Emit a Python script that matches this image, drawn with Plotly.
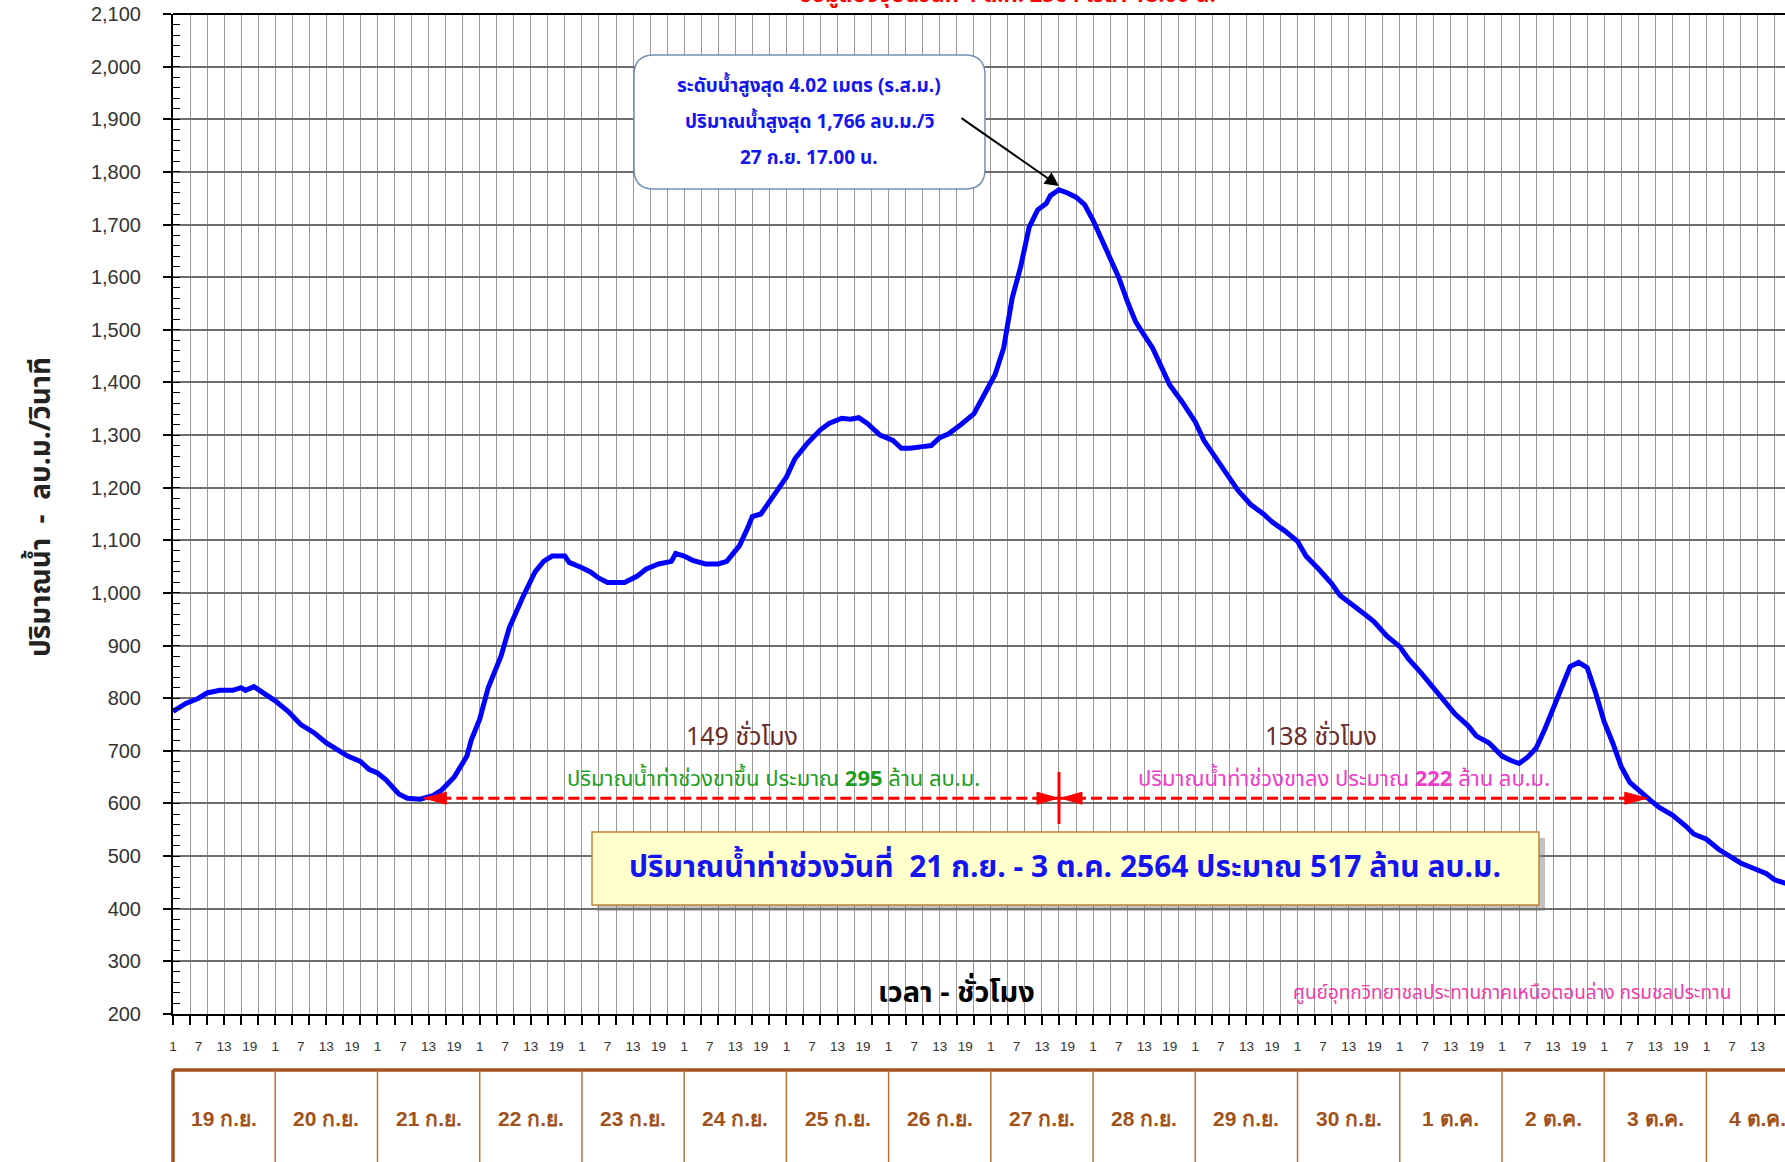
import plotly.graph_objects as go

# ---------------- data ----------------
# x = hours since 19 ก.ย. 01.00 น.
hours = [0, 3, 6, 8, 11, 14, 16, 17, 19, 21, 24, 27, 30, 33, 36, 38, 41, 44, 46, 48,
         50, 53, 55, 58, 61, 63, 66, 69, 70, 72, 74, 77, 79, 82, 85, 87, 89, 92, 93, 96,
         98, 100, 102, 106, 109, 111, 114, 117, 118, 120, 122, 125, 128, 130, 133, 135, 136, 138, 141, 144,
         146, 149, 152, 154, 157, 159, 161, 163, 166, 169, 171, 173, 176, 178, 180, 182, 185, 188, 190, 193,
         195, 197, 199, 201, 203, 205, 206, 208, 210, 212, 214, 216, 218, 220, 222, 224, 226, 228, 230, 232,
         234, 237, 240, 242, 245, 248, 250, 253, 256, 258, 261, 264, 266, 269, 272, 274, 277, 280, 282, 285,
         288, 290, 293, 296, 298, 301, 304, 306, 309, 312, 314, 316, 318, 320, 322, 324, 326, 328, 330, 332,
         334, 336, 338, 340, 342, 344, 347, 349, 352, 355, 357, 360, 363, 366, 368, 371, 374, 376, 379]
flow = [775, 790, 800, 810, 815, 815, 820, 815, 822, 812, 795, 775, 750, 735, 715, 705, 690, 680, 665, 658,
        645, 618, 610, 608, 615, 625, 650, 690, 720, 760, 820, 880, 935, 990, 1040, 1060, 1070, 1070, 1058, 1048,
        1040, 1028, 1020, 1020, 1032, 1045, 1055, 1060, 1075, 1070, 1062, 1055, 1055, 1060, 1090, 1125, 1145, 1150, 1185, 1220,
        1255, 1285, 1310, 1322, 1332, 1330, 1333, 1322, 1300, 1290, 1275, 1275, 1278, 1280, 1295, 1302, 1320, 1340, 1370, 1415,
        1465, 1560, 1620, 1695, 1728, 1740, 1755, 1766, 1760, 1752, 1738, 1708, 1672, 1635, 1600, 1555, 1515, 1490, 1465, 1430,
        1395, 1362, 1325, 1290, 1255, 1220, 1195, 1168, 1150, 1135, 1118, 1098, 1070, 1045, 1018, 995, 975, 958, 945, 918,
        898, 875, 848, 820, 800, 770, 748, 728, 715, 690, 682, 676, 688, 705, 740, 780, 825, 860, 868, 858,
        810, 755, 715, 670, 640, 625, 605, 592, 578, 558, 542, 532, 512, 497, 487, 477, 467, 455, 447]

day_labels = ["19 ก.ย.", "20 ก.ย.", "21 ก.ย.", "22 ก.ย.", "23 ก.ย.", "24 ก.ย.", "25 ก.ย.", "26 ก.ย.",
              "27 ก.ย.", "28 ก.ย.", "29 ก.ย.", "30 ก.ย.", "1 ต.ค.", "2 ต.ค.", "3 ต.ค.", "4 ต.ค."]
hour_labels = ["1", "7", "13", "19"]
y_ticks = list(range(200, 2101, 100))

peak_hour, peak_flow = 208, 1766
rise_start, fall_end = 59, 346
level_line = 610
rise_hours, fall_hours = 149, 138
rise_volume, fall_volume, total_volume = 295, 222, 517

# ---------------- layout geometry ----------------
W, H = 1785, 1162
ML, MR, MT, MB = 173, 0, 14, 148
PW, PH = W - ML - MR, H - MT - MB
X_END = PW / (102.23 / 24.0)


def px(xp):
    return (xp - ML) / PW


def py(yp):
    return (H - MB - yp) / PH


def rrect(x0, y0, x1, y1, r):
    pts = [("M", x0 + r, y0), ("L", x1 - r, y0), ("Q", x1, y0, x1, y0 + r), ("L", x1, y1 - r),
           ("Q", x1, y1, x1 - r, y1), ("L", x0 + r, y1), ("Q", x0, y1, x0, y1 - r), ("L", x0, y0 + r),
           ("Q", x0, y0, x0 + r, y0)]
    s = ""
    for p in pts:
        cmd = p[0]
        coords = p[1:]
        parts = []
        for i in range(0, len(coords), 2):
            parts.append(f"{px(coords[i]):.5f},{py(coords[i + 1]):.5f}")
        s += cmd + " ".join(parts) + " "
    return s + "Z"


THAI = "Noto Sans Thai, Tahoma, Leelawadee UI, Noto Sans, DejaVu Sans, sans-serif"
ARIAL = "Liberation Sans, Arial, sans-serif"
BROWN = "#A0521A"
BLUE_T = "#1414EE"

fig = go.Figure()
fig.add_trace(go.Scatter(x=hours, y=flow, mode="lines", line=dict(color="#0000FF", width=5),
                         hoverinfo="skip", showlegend=False))
fig.add_trace(go.Scatter(x=hours, y=flow, mode="lines", line=dict(color="rgba(0,0,0,0)", width=0),
                         xaxis="x2", hoverinfo="skip", showlegend=False))

n_days = len(day_labels)
label_vals = [d * 24 + i * 6 for d in range(n_days) for i in range(len(hour_labels))]
label_text = [hour_labels[i] for d in range(n_days) for i in range(len(hour_labels))]

fig.update_layout(
    width=W, height=H, margin=dict(l=ML, r=MR, t=MT, b=MB),
    paper_bgcolor="white", plot_bgcolor="white", showlegend=False,
    xaxis=dict(range=[0, X_END], tickmode="linear", tick0=0, dtick=4, showticklabels=False,
               ticks="outside", ticklen=9, tickwidth=1.5, tickcolor="black",
               showgrid=True, gridcolor="#9a9a9a", gridwidth=1.4, zeroline=False,
               showline=True, linecolor="black", linewidth=2),
    xaxis2=dict(range=[0, X_END], overlaying="x", anchor="y", side="bottom",
                tickmode="array", tickvals=label_vals, ticktext=label_text, ticks="",
                showgrid=False, zeroline=False, showline=False, ticklabelstandoff=22,
                tickfont=dict(family=ARIAL, size=13.5, color="#333")),
    yaxis=dict(range=[200, 2100], tickmode="array", tickvals=y_ticks,
               ticktext=[f"{v:,}" for v in y_ticks], ticks="outside", ticklen=8, tickwidth=1.5,
               tickcolor="black", showgrid=True, gridcolor="#6e6e6e", gridwidth=1.5, zeroline=False,
               showline=True, linecolor="black", linewidth=2, ticklabelstandoff=18,
               tickfont=dict(family=ARIAL, size=20, color="#333"),
               minor=dict(dtick=20, tick0=200, ticks="inside", ticklen=7, tickcolor="black",
                          tickwidth=1.2, showgrid=False)),
)

shapes = []
ann = []


def text(x, y, t, size, color, family=THAI, xref="paper", yref="paper", **kw):
    d = dict(xref=xref, yref=yref, x=x, y=y, text=t, showarrow=False, xanchor="center",
             yanchor="middle", font=dict(family=family, size=size, color=color))
    d.update(kw)
    ann.append(d)


# top border line of plot
shapes.append(dict(type="line", xref="paper", yref="paper", x0=0, x1=1, y0=1, y1=1,
                   line=dict(color="black", width=2)))

# date table below the axis
shapes.append(dict(type="line", xref="paper", yref="paper", x0=0, x1=1.01, y0=py(1070), y1=py(1070),
                   line=dict(color=BROWN, width=3.5)))
shapes.append(dict(type="line", xref="paper", yref="paper", x0=0, x1=0, y0=py(1070), y1=py(1170),
                   line=dict(color=BROWN, width=3.5)))
for d in range(1, n_days):
    shapes.append(dict(type="line", xref="x", yref="paper", x0=d * 24, x1=d * 24, y0=py(1070), y1=py(1170),
                       line=dict(color="#B8733A", width=1.5)))
for d, lab in enumerate(day_labels):
    text(d * 24 + 12, py(1118), f"<b>{lab}</b>", 21, BROWN, family=ARIAL, xref="x")

# callout box for the peak
shapes.append(dict(type="path", xref="paper", yref="paper", path=rrect(634, 55, 985, 189, 20),
                   fillcolor="white", line=dict(color="#7390B5", width=1.5), layer="above"))
callout = ["ระดับน้ำสูงสุด 4.02 เมตร (ร.ส.ม.)",
           f"ปริมาณน้ำสูงสุด {peak_flow:,} ลบ.ม./วิ",
           "27 ก.ย. 17.00 น."]
for i, t in enumerate(callout):
    text(px(809), py(87 + i * 35.5), f"<b>{t}</b>", 19, BLUE_T)
ann.append(dict(xref="x", yref="y", x=peak_hour, y=peak_flow + 7, ax=-99, ay=-69, text="",
                showarrow=True, arrowhead=2, arrowsize=1.4, arrowwidth=2, arrowcolor="black"))

# red dashed duration lines with arrowheads
for x0, x1 in [(rise_start, peak_hour), (peak_hour, fall_end)]:
    shapes.append(dict(type="line", xref="x", yref="y", x0=x0, x1=x1, y0=level_line, y1=level_line,
                       line=dict(color="#FF0000", width=3, dash="11px,5px")))
heads = [(rise_start, "M0,0 L22,6 L22,-6 Z"), (peak_hour, "M-1,0 L-22,6 L-22,-6 Z"),
         (peak_hour, "M2,0 L23,6 L23,-6 Z"), (fall_end, "M0,0 L-22,6 L-22,-6 Z")]
for xa, path in heads:
    shapes.append(dict(type="path", xref="x", yref="y", xsizemode="pixel", ysizemode="pixel",
                       xanchor=xa, yanchor=level_line, path=path, fillcolor="#FF0000",
                       line=dict(color="#FF0000", width=1)))
shapes.append(dict(type="line", xref="x", yref="y", x0=peak_hour, x1=peak_hour, y0=561, y1=660,
                   line=dict(color="#FF0000", width=3)))

text(133.6, 726, f"{rise_hours} ชั่วโมง", 25, "#6B2C2C", xref="x", yref="y")
text(269.4, 726, f"{fall_hours} ชั่วโมง", 25, "#6B2C2C", xref="x", yref="y")
text(141, 645, f"ปริมาณน้ำท่าช่วงขาขึ้น ประมาณ <b>{rise_volume}</b> ล้าน ลบ.ม.", 22, "#1E9E1E",
     xref="x", yref="y")
text(274.8, 645, f"ปริมาณน้ำท่าช่วงขาลง ประมาณ <b>{fall_volume}</b> ล้าน ลบ.ม.", 22, "#F03CC8",
     xref="x", yref="y")

# yellow summary box with shadow
shapes.append(dict(type="rect", xref="paper", yref="paper", x0=px(597), x1=px(1545), y0=py(838), y1=py(911),
                   fillcolor="rgba(120,120,120,0.45)", line=dict(width=0), layer="above"))
shapes.append(dict(type="rect", xref="paper", yref="paper", x0=px(592), x1=px(1539), y0=py(832), y1=py(905),
                   fillcolor="#FFFFCC", line=dict(color="#C0843C", width=1.5), layer="above"))
text(px(1065), py(868),
     f"<b>ปริมาณน้ำท่าช่วงวันที่  21 ก.ย. - 3 ต.ค. 2564 ประมาณ {total_volume} ล้าน ลบ.ม.</b>", 30, BLUE_T)

# axis titles and credits
text(px(956), py(993), "<b>เวลา - ชั่วโมง</b>", 29, "black")
text(px(1512), py(993), "ศูนย์อุทกวิทยาชลประทานภาคเหนือตอนล่าง กรมชลประทาน", 19, "#F03CA8")
text(px(41), py(507), "<b>ปริมาณน้ำ  -  ลบ.ม./วินาที</b>", 28, "#222", textangle=-90)
text(px(1007), py(14), "<b>ข้อมูลปัจจุบันวันที่ 4 ต.ค. 2564 เวลา 18.00 น.</b>", 22, "#FF0000",
     yanchor="bottom")

fig.update_layout(shapes=shapes, annotations=ann)
fig.write_html("out.html", config={"displayModeBar": False},
               post_script="document.body.style.margin='0px';")
